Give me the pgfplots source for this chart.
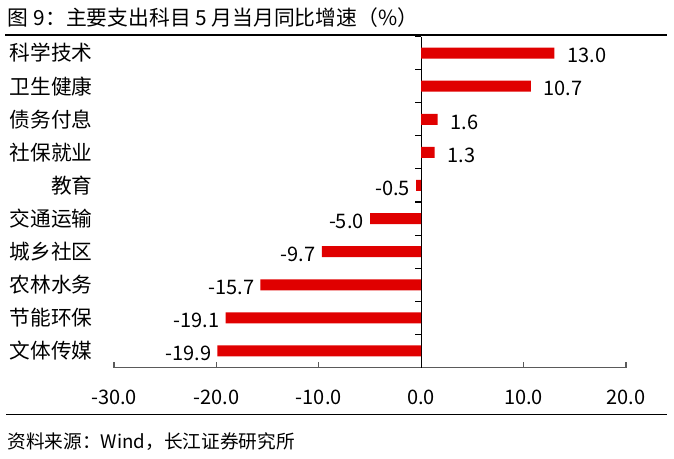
\documentclass[border=0pt]{standalone}
\usepackage{pgfplots}
\pgfplotsset{compat=1.18}
\usepackage{fontspec}
\setmainfont{Noto Sans CJK SC}
\definecolor{barred}{RGB}{224,0,0}
\definecolor{axgrey}{RGB}{90,90,90}
\begin{document}
\begin{tikzpicture}
\useasboundingbox (0,0) rectangle (505.5pt,-343.5pt);
% title and rules
\node[anchor=west,inner sep=0pt,font=\fontsize{15.6pt}{18pt}\selectfont] at (5.5pt,-13.5pt) {图\hspace{4pt}9：主要支出科目\hspace{3.5pt}5\hspace{3.5pt}月当月同比增速（\%）};
\draw[line width=1.6pt] (3.75pt,-26pt) -- (500.5pt,-26pt);
\draw[line width=1.1pt] (4.5pt,-310.8pt) -- (500.5pt,-310.8pt);
\node[anchor=west,inner sep=0pt,font=\fontsize{14pt}{16pt}\selectfont] at (5.5pt,-331pt) {资料来源：Wind，长江证券研究所};
\begin{axis}[
  at={(85.5pt,-27.375pt)}, anchor=north west,
  scale only axis, width=384pt, height=248.25pt,
  xmin=-30, xmax=20, ymin=-0.5, ymax=9.5,
  y dir=reverse,
  xbar, bar width=8.25pt, bar shift=0pt,
  axis x line=bottom, axis y line=center,
  x axis line style={draw=axgrey,line width=0.8pt,-},
  y axis line style={draw=black,line width=0.8pt,-},
  xtick={-30,-20,-10,0,10,20},
  xtick align=inside,
  major x tick style={draw=axgrey,line width=0.8pt},
  major tick length=4.5pt,
  xticklabel style={font=\fontsize{15pt}{18pt}\selectfont, yshift=-13pt},
  xticklabel={\pgfmathprintnumber[fixed,fixed zerofill,precision=1,assume math mode=true]{\tick}},
  ytick={0,...,9},
  yticklabels={科学技术,卫生健康,债务付息,社保就业,教育,交通运输,城乡社区,农林水务,节能环保,文体传媒},
  major y tick style={draw=none},
  minor ytick={-0.5,0.5,...,9.5},
  minor y tick style={draw=black,line width=0.8pt},
  minor tick length=4.5pt,
  ytick align=outside,
  yticklabel style={font=\fontsize{15.5pt}{18pt}\selectfont, anchor=east, xshift=-238.5pt},
  point meta=x,
  nodes near coords={\pgfmathprintnumber[fixed,fixed zerofill,precision=1,assume math mode=true]{\pgfplotspointmeta}},
  nodes near coords align={horizontal},
  every node near coord/.append style={font=\fontsize{15pt}{18pt}\selectfont, black, inner sep=4.5pt, yshift=-2pt},
  clip=false,
]
\addplot[fill=barred, draw=none, every node near coord/.append style={xshift=5pt}] coordinates {
(13.0,0) (10.7,1) (1.6,2) (1.3,3)
};
\addplot[fill=barred, draw=none] coordinates {
(-0.5,4) (-5.0,5) (-9.7,6) (-15.7,7) (-19.1,8) (-19.9,9)
};
\end{axis}
\end{tikzpicture}
\end{document}
